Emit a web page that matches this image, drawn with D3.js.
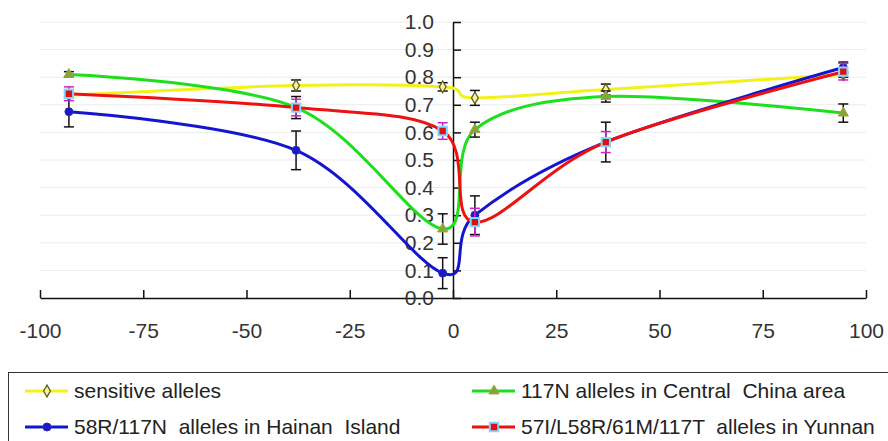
<!DOCTYPE html>
<html>
<head>
<meta charset="utf-8">
<script src="https://cdn.jsdelivr.net/npm/d3@7.9.0/dist/d3.min.js"></script>
<style>
  body { margin: 0; background: #fff; }
  svg { display: block; font-family: 'Liberation Sans', Arial, sans-serif; }
</style>
</head>
<body>
<div id="chart"></div>
<script>
// sample positions shared by all four series
const xVals = [-93, -38, -2.5, 5.3, 37, 94.5];

const sensitive = [0.735, 0.77, 0.765, 0.725, 0.755, 0.81];
const sensitiveErr = [0.01, 0.02, 0.015, 0.027, 0.02, 0.01];
const central = [0.81, 0.69, 0.25, 0.61, 0.73, 0.67];
const centralErr = [0.01, 0.04, 0.055, 0.027, 0.02, 0.033];
const hainan = [0.675, 0.535, 0.09, 0.3, 0.565, 0.835];
const hainanErr = [0.055, 0.07, 0.056, 0.07, 0.072, 0.02];
const yunnan = [0.74, 0.69, 0.605, 0.275, 0.565, 0.82];
const yunnanErr = [0.025, 0.03, 0.03, 0.05, 0.038, 0.03];

const xTicks = [-100, -75, -50, -25, 0, 25, 50, 75, 100];
const yTicks = [0, 0.1, 0.2, 0.3, 0.4, 0.5, 0.6, 0.7, 0.8, 0.9, 1.0];

const series = [
  { name: 'sensitive alleles', values: sensitive, err: sensitiveErr,
    color: '#f2f21a', marker: 'diamond', errColor: '#111' },
  { name: '117N alleles in Central  China area', values: central, err: centralErr,
    color: '#1ede1e', marker: 'triangle', errColor: '#111' },
  { name: '58R/117N  alleles in Hainan  Island', values: hainan, err: hainanErr,
    color: '#1515d0', marker: 'circle', errColor: '#111' },
  { name: '57I/L58R/61M/117T  alleles in Yunnan', values: yunnan, err: yunnanErr,
    color: '#ee1111', marker: 'square', errColor: '#cc22cc' },
];

const width = 888;
const height = 441;

const svg = d3
  .select('#chart')
  .append('svg')
  .attr('width', width)
  .attr('height', height);

const xScale = d3.scaleLinear().domain([-100, 100]).range([40, 866]);
const yScale = d3.scaleLinear().domain([0, 1]).range([298, 22]);

// gridlines
svg
  .append('g')
  .selectAll('line')
  .data(yTicks.filter((d) => d > 0))
  .join('line')
  .attr('x1', xScale(-100))
  .attr('x2', xScale(100))
  .attr('y1', (d) => yScale(d))
  .attr('y2', (d) => yScale(d))
  .attr('stroke', '#ececec')
  .attr('stroke-width', 1);

// x axis: ticks point up, plain hyphen for negatives
const xAxis = svg
  .append('g')
  .attr('transform', `translate(0, ${yScale(0)})`)
  .call(
    d3.axisBottom(xScale)
      .tickValues(xTicks)
      .tickFormat((d) => String(d))
      .tickSizeInner(-8)
      .tickSizeOuter(0)
      .tickPadding(25),
  );
xAxis.select('.domain').attr('stroke', '#111').attr('stroke-width', 1.5);
xAxis.selectAll('.tick line').attr('stroke', '#111').attr('stroke-width', 1.5);
xAxis.selectAll('.tick text').attr('font-size', 21).attr('fill', '#333');

// y axis at x = 0, ticks point right, labels on the left
const yAxis = svg
  .append('g')
  .attr('transform', `translate(${xScale(0)}, 0)`)
  .call(d3.axisLeft(yScale).tickValues(yTicks).tickFormat(d3.format('.1f')).tickSize(0).tickPadding(19));
yAxis.select('.domain').attr('stroke', '#111').attr('stroke-width', 1.5);
yAxis.selectAll('.tick text').attr('font-size', 21).attr('fill', '#333');
yAxis
  .selectAll('.tick')
  .append('line')
  .attr('x1', 0)
  .attr('x2', 8)
  .attr('stroke', '#111')
  .attr('stroke-width', 1.5);

const line = d3
  .line()
  .x((d) => xScale(d[0]))
  .y((d) => yScale(d[1]))
  .curve(d3.curveCardinal.tension(0));

const symbolFor = {
  diamond: d3.symbol().type(d3.symbolDiamond).size(40),
  triangle: d3.symbol().type(d3.symbolTriangle).size(45),
  circle: d3.symbol().type(d3.symbolCircle).size(50),
  square: d3.symbol().type(d3.symbolSquare).size(70),
};

function drawMarker(g, s) {
  const p = g.append('path').attr('d', symbolFor[s.marker]());
  if (s.marker === 'diamond') p.attr('fill', '#f4f4a0').attr('stroke', '#665c1a').attr('stroke-width', 1.3);
  if (s.marker === 'triangle') p.attr('fill', '#80a838').attr('stroke', '#a0a040').attr('stroke-width', 1);
  if (s.marker === 'circle') p.attr('fill', '#1a1ac8').attr('stroke', '#2a2ab0').attr('stroke-width', 1);
  if (s.marker === 'square') p.attr('fill', '#e01010').attr('stroke', '#7fd8ff').attr('stroke-width', 2);
  return p;
}

series.forEach((s) => {
  const pts = xVals.map((x, i) => [x, s.values[i], s.err[i]]);
  const g = svg.append('g');

  g.append('path')
    .datum(pts)
    .attr('d', line)
    .attr('fill', 'none')
    .attr('stroke', s.color)
    .attr('stroke-width', 3);

  // error bars
  const eb = g.selectAll('.err').data(pts).join('g').attr('class', 'err');
  eb.append('line')
    .attr('x1', (d) => xScale(d[0]))
    .attr('x2', (d) => xScale(d[0]))
    .attr('y1', (d) => yScale(d[1] - d[2]))
    .attr('y2', (d) => yScale(d[1] + d[2]));
  eb.append('line')
    .attr('x1', (d) => xScale(d[0]) - 5)
    .attr('x2', (d) => xScale(d[0]) + 5)
    .attr('y1', (d) => yScale(d[1] - d[2]))
    .attr('y2', (d) => yScale(d[1] - d[2]));
  eb.append('line')
    .attr('x1', (d) => xScale(d[0]) - 5)
    .attr('x2', (d) => xScale(d[0]) + 5)
    .attr('y1', (d) => yScale(d[1] + d[2]))
    .attr('y2', (d) => yScale(d[1] + d[2]));
  eb.selectAll('line').attr('stroke', s.errColor).attr('stroke-width', 1.5);

  pts.forEach((d) => {
    const m = g.append('g').attr('transform', `translate(${xScale(d[0])}, ${yScale(d[1])})`);
    drawMarker(m, s);
  });
});

// legend
const legend = svg.append('g');
legend
  .append('rect')
  .attr('x', 8.5)
  .attr('y', 372.5)
  .attr('width', 900)
  .attr('height', 100)
  .attr('fill', '#fff')
  .attr('stroke', '#333')
  .attr('stroke-width', 1);

const legendPos = [
  [25, 391],
  [472, 391],
  [25, 427],
  [472, 427],
];

series.forEach((s, i) => {
  const [lx, ly] = legendPos[i];
  const item = legend.append('g').attr('transform', `translate(${lx}, ${ly})`);
  item.append('line')
    .attr('x1', 0)
    .attr('x2', 43)
    .attr('stroke', s.color)
    .attr('stroke-width', 3);
  const m = item.append('g').attr('transform', 'translate(22, 0)');
  drawMarker(m, s);
  item.append('text')
    .attr('x', 49)
    .attr('y', 0)
    .attr('dy', '0.35em')
    .attr('font-size', 21)
    .attr('fill', '#222')
    .style('white-space', 'pre')
    .text(s.name);
});
</script>
</body>
</html>
